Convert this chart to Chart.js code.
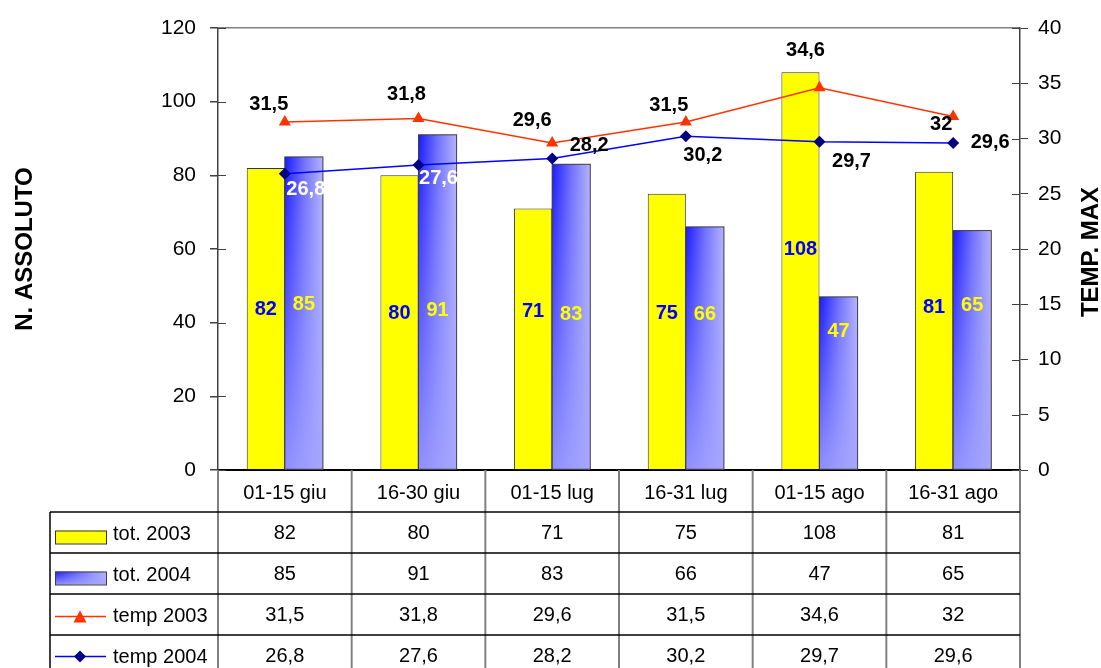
<!DOCTYPE html>
<html>
<head>
<meta charset="utf-8">
<title>Totale 2003-2004 e temperature massime</title>
<script src="https://cdn.jsdelivr.net/npm/chart.js@4"></script>
<style>
  body { margin: 0; background: #fff; }
  #wrap { width: 1101px; height: 668px; position: relative; }
</style>
</head>
<body>
<div id="wrap"><canvas id="chart" width="1101" height="668"></canvas></div>
<script>
// data
const categories = ['01-15 giu', '16-30 giu', '01-15 lug', '16-31 lug', '01-15 ago', '16-31 ago'];
const tot2003 = [82, 80, 71, 75, 108, 81];
const tot2004 = [85, 91, 83, 66, 47, 65];
const temp2003 = [31.5, 31.8, 29.6, 31.5, 34.6, 32];
const temp2004 = [26.8, 27.6, 28.2, 30.2, 29.7, 29.6];
const seriesNames = ['tot. 2003', 'tot. 2004', 'temp 2003', 'temp 2004'];
const leftTitle = 'N. ASSOLUTO';
const rightTitle = 'TEMP. MAX';

// hand placement of the value labels (pixels), like in the original sheet
const barLabelDy = [[-2, 2, 0, 2, -62, -4], [-7, -1, 3, 3, 20, -6]];
const lineLabelOff = [
  [[-16, -17], [-12, -24], [-20, -22], [-17, -16], [-14, -37], [-12, 8]],
  [[21, 16], [20, 13], [37, -13], [17, 19], [32, 20], [37, 0]]
];
const line2004LabelColors = ['#ffffff', '#ffffff', '#000000', '#000000', '#000000', '#000000'];

const FONT = "'Liberation Sans', Arial, sans-serif";
Chart.defaults.font.family = FONT;
Chart.defaults.color = '#000';

const fmt = v => String(v).replace('.', ',');

function paintBlueBar(ctx, left, top, w, h) {
  const g1 = ctx.createLinearGradient(left, 0, left + w, 0);
  g1.addColorStop(0, '#1a1aff');
  g1.addColorStop(0.5, '#7070ff');
  g1.addColorStop(1, '#b4b4ff');
  ctx.fillStyle = g1;
  ctx.fillRect(left, top, w, h);
  const g2 = ctx.createLinearGradient(0, top, 0, top + h);
  g2.addColorStop(0, 'rgba(164,164,255,0)');
  g2.addColorStop(1, 'rgba(164,164,255,0.85)');
  ctx.fillStyle = g2;
  ctx.fillRect(left, top, w, h);
}

const gradientBars = {
  id: 'gradientBars',
  afterDatasetDraw(chart, args) {
    if (args.index !== 1) return;
    const ctx = chart.ctx;
    ctx.save();
    args.meta.data.forEach(el => {
      const left = el.x - el.width / 2;
      const top = Math.min(el.y, el.base);
      const h = Math.abs(el.base - el.y);
      paintBlueBar(ctx, left, top, el.width, h);
      ctx.strokeStyle = '#404040';
      ctx.lineWidth = 1;
      ctx.strokeRect(left, top, el.width, h);
    });
    ctx.restore();
  }
};

const valueLabels = {
  id: 'valueLabels',
  afterDatasetsDraw(chart) {
    const ctx = chart.ctx;
    const y = chart.scales.y;
    ctx.save();
    ctx.font = 'bold 20px ' + FONT;
    ctx.textAlign = 'center';
    ctx.textBaseline = 'middle';
    [0, 1].forEach(i => {
      const ds = chart.data.datasets[i];
      chart.getDatasetMeta(i).data.forEach((el, j) => {
        ctx.fillStyle = i === 0 ? '#0000ff' : '#ffff00';
        ctx.fillText(fmt(ds.data[j]), el.x, y.getPixelForValue(43) + barLabelDy[i][j]);
      });
    });
    [2, 3].forEach((i, k) => {
      const ds = chart.data.datasets[i];
      chart.getDatasetMeta(i).data.forEach((el, j) => {
        ctx.fillStyle = k === 0 ? '#000000' : line2004LabelColors[j];
        const off = lineLabelOff[k][j];
        ctx.fillText(fmt(ds.data[j]), el.x + off[0], el.y + off[1]);
      });
    });
    ctx.restore();
  }
};

const dataTable = {
  id: 'dataTable',
  afterDraw(chart) {
    const ctx = chart.ctx;
    const area = chart.chartArea;
    const n = categories.length;
    const colW = (area.right - area.left) / n;
    const tableLeft = 50;
    const firstRow = area.bottom + 42;
    const rowH = 41;
    const bottom = chart.height;

    ctx.save();
    // inner halves of the axis tick marks
    ctx.strokeStyle = '#404040';
    ctx.lineWidth = 1;
    chart.scales.y.ticks.forEach(t => {
      const py = Math.round(chart.scales.y.getPixelForValue(t.value)) + 0.5;
      ctx.beginPath(); ctx.moveTo(area.left, py); ctx.lineTo(area.left + 8, py); ctx.stroke();
    });
    chart.scales.yT.ticks.forEach(t => {
      const py = Math.round(chart.scales.yT.getPixelForValue(t.value)) + 0.5;
      ctx.beginPath(); ctx.moveTo(area.right - 8, py); ctx.lineTo(area.right, py); ctx.stroke();
    });

    // grey column separators running down through the table
    ctx.strokeStyle = '#808080';
    ctx.lineWidth = 2;
    for (let i = 0; i <= n; i++) {
      const x = area.left + i * colW;
      ctx.beginPath(); ctx.moveTo(x, area.bottom); ctx.lineTo(x, bottom); ctx.stroke();
    }
    // black row lines and left border
    ctx.strokeStyle = '#000';
    ctx.lineWidth = 1.5;
    for (let r = 0; r < seriesNames.length; r++) {
      const yy = firstRow + r * rowH;
      ctx.beginPath(); ctx.moveTo(tableLeft, yy); ctx.lineTo(area.right, yy); ctx.stroke();
    }
    ctx.beginPath(); ctx.moveTo(tableLeft, firstRow); ctx.lineTo(tableLeft, bottom); ctx.stroke();

    // cell values
    const rows = [tot2003, tot2004, temp2003, temp2004];
    ctx.font = '20px ' + FONT;
    ctx.textBaseline = 'middle';
    ctx.fillStyle = '#000';
    rows.forEach((vals, r) => {
      const cy = firstRow + r * rowH + rowH / 2 + 1;
      ctx.textAlign = 'center';
      vals.forEach((v, i) => ctx.fillText(fmt(v), area.left + (i + 0.5) * colW, cy));
      ctx.textAlign = 'left';
      ctx.fillText(seriesNames[r], 113, cy + 1);
    });

    // legend keys
    const keyX = 55, keyW = 51;
    let cy = firstRow + rowH / 2 + 1;
    ctx.fillStyle = '#ffff00';
    ctx.fillRect(keyX, cy - 3, keyW, 13);
    ctx.strokeStyle = '#333';
    ctx.lineWidth = 1;
    ctx.strokeRect(keyX + 0.5, cy - 2.5, keyW, 13);

    cy += rowH;
    paintBlueBar(ctx, keyX, cy - 3, keyW, 13);
    ctx.strokeStyle = '#404040';
    ctx.strokeRect(keyX + 0.5, cy - 2.5, keyW, 13);

    cy += rowH;
    ctx.strokeStyle = '#ff3300';
    ctx.lineWidth = 1.5;
    ctx.beginPath(); ctx.moveTo(keyX, cy + 1); ctx.lineTo(keyX + keyW, cy + 1); ctx.stroke();
    ctx.fillStyle = '#ff3300';
    ctx.beginPath();
    ctx.moveTo(80, cy - 5); ctx.lineTo(86.5, cy + 7); ctx.lineTo(73.5, cy + 7); ctx.closePath(); ctx.fill();

    cy += rowH;
    ctx.strokeStyle = '#0000ff';
    ctx.beginPath(); ctx.moveTo(keyX, cy); ctx.lineTo(keyX + keyW, cy); ctx.stroke();
    ctx.fillStyle = '#000080';
    ctx.beginPath();
    ctx.moveTo(80, cy - 6); ctx.lineTo(86, cy); ctx.lineTo(80, cy + 6); ctx.lineTo(74, cy); ctx.closePath(); ctx.fill();

    // right axis title, reading bottom to top like the left one
    ctx.font = 'bold 24px ' + FONT;
    ctx.fillStyle = '#000';
    ctx.textAlign = 'center';
    ctx.textBaseline = 'alphabetic';
    ctx.translate(1098, (area.top + area.bottom) / 2 + 3);
    ctx.rotate(-Math.PI / 2);
    ctx.fillText(rightTitle, 0, 0);
    ctx.restore();
  }
};

new Chart(document.getElementById('chart'), {
  type: 'bar',
  data: {
    labels: categories,
    datasets: [
      {
        label: seriesNames[0],
        data: tot2003,
        yAxisID: 'y',
        backgroundColor: '#ffff00',
        borderColor: '#333333',
        borderWidth: 1,
        categoryPercentage: 0.57,
        barPercentage: 1,
        order: 2
      },
      {
        label: seriesNames[1],
        data: tot2004,
        yAxisID: 'y',
        backgroundColor: '#a0a0ff',
        borderColor: '#404040',
        borderWidth: 1,
        categoryPercentage: 0.57,
        barPercentage: 1,
        order: 2
      },
      {
        type: 'line',
        label: seriesNames[2],
        data: temp2003,
        yAxisID: 'yT',
        borderColor: '#ff3300',
        borderWidth: 1.5,
        backgroundColor: '#ff3300',
        pointStyle: 'triangle',
        pointRadius: 7,
        pointBorderWidth: 0,
        order: 1
      },
      {
        type: 'line',
        label: seriesNames[3],
        data: temp2004,
        yAxisID: 'yT',
        borderColor: '#0000ff',
        borderWidth: 1.5,
        backgroundColor: '#000080',
        pointBorderColor: '#000080',
        pointStyle: 'rectRot',
        pointRadius: 6,
        pointBorderWidth: 0,
        order: 0
      }
    ]
  },
  options: {
    responsive: false,
    animation: false,
    layout: { padding: { top: 28, bottom: 156, left: 0, right: 0 } },
    plugins: {
      legend: { display: false },
      tooltip: { enabled: false }
    },
    scales: {
      x: {
        offset: true,
        grid: { display: false },
        border: { display: true, color: '#000', width: 2 },
        ticks: { font: { size: 20 }, padding: 3, maxRotation: 0, autoSkip: false },
        afterFit(scale) { scale.height = 42; }
      },
      y: {
        position: 'left',
        min: 0,
        max: 120,
        ticks: { stepSize: 20, font: { size: 21 }, padding: 14 },
        grid: {
          color: c => (c.tick && c.tick.value === 120 ? '#808080' : 'rgba(0,0,0,0)'),
          tickColor: '#404040',
          tickLength: 8,
          lineWidth: 1.5
        },
        border: { color: '#404040', width: 1.5 },
        title: { display: true, text: leftTitle, font: { size: 24, weight: 'bold' }, padding: { top: 11, bottom: 0 } },
        afterFit(scale) { scale.width = 218; }
      },
      yT: {
        position: 'right',
        min: 0,
        max: 40,
        ticks: { stepSize: 5, font: { size: 21 }, padding: 10 },
        grid: { drawOnChartArea: false, tickColor: '#404040', tickLength: 8 },
        border: { color: '#404040', width: 1.5 },
        afterFit(scale) { scale.width = 81; }
      }
    }
  },
  plugins: [gradientBars, valueLabels, dataTable]
});
</script>
</body>
</html>
